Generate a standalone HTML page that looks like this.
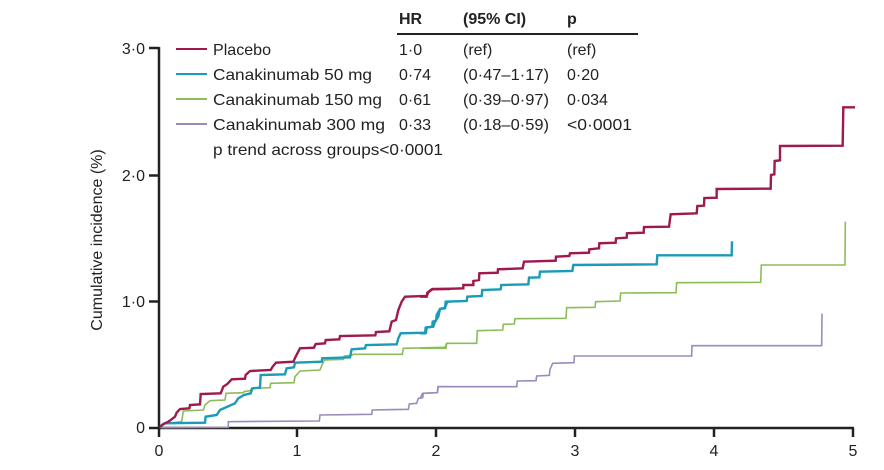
<!DOCTYPE html>
<html><head><meta charset="utf-8"><style>
html,body{margin:0;padding:0;background:#fff;}
svg{display:block;font-family:"Liberation Sans",sans-serif;}
.pl{fill:none;stroke-width:2.4;stroke-linejoin:miter;vector-effect:non-scaling-stroke}
.th{fill:none;stroke-width:1.6;vector-effect:non-scaling-stroke}
text{fill:#222;font-size:16px}
</style></head><body>
<svg width="884" height="470" viewBox="0 0 884 470">
<!-- axes -->
<g stroke="#222" stroke-width="2.5" fill="none">
<line x1="159" y1="47" x2="159" y2="429"/>
<line x1="158" y1="428" x2="854" y2="428"/>
<line x1="149" y1="48" x2="159" y2="48"/>
<line x1="149" y1="175.5" x2="159" y2="175.5"/>
<line x1="149" y1="301.5" x2="159" y2="301.5"/>
<line x1="149" y1="428" x2="159" y2="428"/>
<line x1="159" y1="428" x2="159" y2="437"/>
<line x1="297" y1="428" x2="297" y2="437"/>
<line x1="436" y1="428" x2="436" y2="437"/>
<line x1="575" y1="428" x2="575" y2="437"/>
<line x1="714" y1="428" x2="714" y2="437"/>
<line x1="853" y1="428" x2="853" y2="437"/>
</g>
<g text-anchor="end">
<text x="145" y="54">3·0</text>
<text x="145" y="181">2·0</text>
<text x="145" y="307">1·0</text>
<text x="145" y="433">0</text>
</g>
<g text-anchor="middle">
<text x="159" y="456">0</text>
<text x="297" y="456">1</text>
<text x="436" y="456">2</text>
<text x="575" y="456">3</text>
<text x="714" y="456">4</text>
<text x="853" y="456">5</text>
</g>
<text transform="translate(102,240) rotate(-90)" text-anchor="middle">Cumulative incidence (%)</text>

<!-- left part curves (zoom1 coords) -->
<g transform="translate(150,260) scale(0.33333)">
<polyline class="th" stroke="#9b8bbd" points="30,500 35,503 235,502 235,485 508,483 510,465 665,463 667,450 775,448 778,432 800,430 805,415 818,413 820,400 862,398 865,380 900,380"/>
<polyline class="th" stroke="#8cbd5a" points="30,500 45,490 95,485 100,453 160,450 165,435 180,422 225,420 228,400 280,398 282,395 300,392 305,385 360,383 362,370 432,368 435,350 450,333 510,330 520,305 525,300 580,298 583,288 605,286 610,283 757,283 760,265 885,262 890,250 900,250"/>
<polyline class="pl" stroke="#1a9bb8" points="30,500 45,490 165,488 167,470 200,465 210,450 255,430 265,415 282,405 302,400 307,385 330,383 332,345 405,343 410,325 432,322 435,308 515,305 517,295 600,292 605,268 645,265 648,255 740,253 745,235 752,220 828,218 830,202 850,200 855,185 865,170 870,147 885,143 892,125 900,125"/>
<polyline class="pl" stroke="#9e1a4e" points="30,500 40,492 55,485 65,478 75,470 80,458 90,447 118,445 120,435 150,433 152,402 212,400 220,380 232,372 245,358 285,356 287,345 300,333 362,330 368,320 378,308 430,305 437,290 450,265 492,263 497,252 525,250 527,240 568,238 570,228 676,226 678,216 718,214 725,185 738,180 745,150 755,125 765,110 830,108 835,97 848,87 900,87"/>
</g>
<!-- right part curves (zoom2 coords) -->
<g transform="translate(420,100) scale(0.33333)">
<polyline class="th" stroke="#9b8bbd" points="0,895 8,880 52,878 54,860 290,860 292,843 348,842 350,828 388,826 390,808 398,790 462,788 463,768 815,768 816,737 1205,737 1206,641"/>
<polyline class="th" stroke="#8cbd5a" points="0,745 78,745 80,730 170,730 172,692 248,690 250,673 283,672 285,656 438,655 440,623 525,622 527,605 600,603 602,579 768,578 770,548 1022,547 1024,495 1275,495 1276,365"/>
<polyline class="pl" stroke="#1a9bb8" points="0,700 15,700 17,683 37,680 38,665 48,662 50,645 60,627 75,625 77,605 140,603 142,590 185,588 187,570 242,568 244,555 325,553 327,533 358,532 360,515 457,513 460,495 710,493 712,466 935,466 936,424"/>
<polyline class="pl" stroke="#9e1a4e" points="0,590 20,590 22,578 35,568 130,565 130,555 160,555 160,543 177,540 178,520 233,518 234,508 308,505 312,485 407,482 408,470 448,468 450,460 507,458 508,448 537,445 538,430 587,428 588,415 620,413 621,400 671,398 672,381 747,380 752,343 830,340 832,318 852,317 853,294 890,293 890,267 1052,266 1053,225 1063,223 1064,183 1080,181 1080,138 1268,137 1270,22 1305,22"/>
</g>

<!-- legend -->
<g font-weight="bold">
<text x="399" y="24" style="font-weight:bold">HR</text>
<text x="463" y="24" style="font-weight:bold">(95% CI)</text>
<text x="567" y="24" style="font-weight:bold">p</text>
</g>
<line x1="397" y1="34" x2="638" y2="34" stroke="#222" stroke-width="2"/>
<g stroke-width="2">
<line x1="176" y1="49" x2="207" y2="49" stroke="#9e1a4e"/>
<line x1="176" y1="74" x2="207" y2="74" stroke="#1a9bb8"/>
<line x1="176" y1="99" x2="207" y2="99" stroke="#8cbd5a"/>
<line x1="176" y1="124" x2="207" y2="124" stroke="#9b8bbd"/>
</g>
<text x="213" y="55" textLength="58" lengthAdjust="spacingAndGlyphs">Placebo</text>
<text x="213" y="80" textLength="159" lengthAdjust="spacingAndGlyphs">Canakinumab 50 mg</text>
<text x="213" y="105" textLength="169" lengthAdjust="spacingAndGlyphs">Canakinumab 150 mg</text>
<text x="213" y="130" textLength="172" lengthAdjust="spacingAndGlyphs">Canakinumab 300 mg</text>
<text x="213" y="155" textLength="230" lengthAdjust="spacingAndGlyphs">p trend across groups&lt;0·0001</text>
<text x="399" y="55">1·0</text>
<text x="399" y="80">0·74</text>
<text x="399" y="105">0·61</text>
<text x="399" y="130">0·33</text>
<text x="463" y="55">(ref)</text>
<text x="463" y="80" textLength="86" lengthAdjust="spacingAndGlyphs">(0·47–1·17)</text>
<text x="463" y="105" textLength="86" lengthAdjust="spacingAndGlyphs">(0·39–0·97)</text>
<text x="463" y="130" textLength="86" lengthAdjust="spacingAndGlyphs">(0·18–0·59)</text>
<text x="567" y="55">(ref)</text>
<text x="567" y="80">0·20</text>
<text x="567" y="105">0·034</text>
<text x="567" y="130" textLength="65" lengthAdjust="spacingAndGlyphs">&lt;0·0001</text>
</svg>
</body></html>
